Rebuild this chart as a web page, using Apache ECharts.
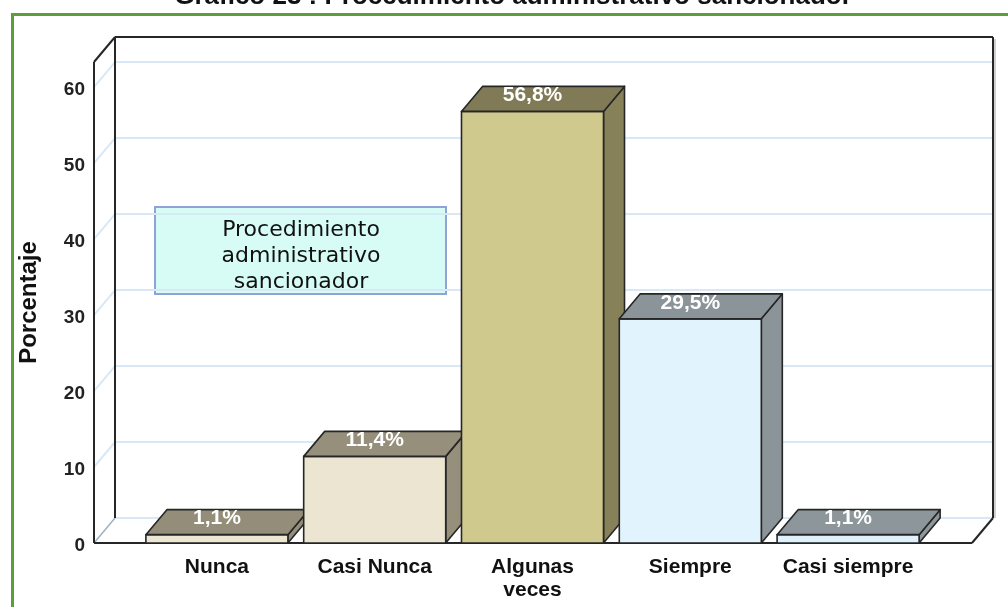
<!DOCTYPE html>
<html>
<head>
<meta charset="utf-8">
<script src="https://cdn.jsdelivr.net/npm/echarts@6/dist/echarts.min.js"></script>
<style>
html,body{margin:0;padding:0;background:#fff;}
#chart{width:1008px;height:607px;}
</style>
</head>
<body>
<div id="chart"></div>
<script>
// ---- data ----
const titleText = 'Gráfico 23 : Procedimiento administrativo sancionador';
const categories = ['Nunca', 'Casi Nunca', 'Algunas\nveces', 'Siempre', 'Casi siempre'];
const percentages = [1.1, 11.4, 56.8, 29.5, 1.1];
const yTicks = [0, 10, 20, 30, 40, 50, 60];
const yAxisName = 'Porcentaje';
const annotationText = 'Procedimiento\nadministrativo\nsancionador';

// ---- styles ----
const FONT = '"Liberation Sans", Arial, sans-serif';
const WIDE_FONT = '"DejaVu Sans", Verdana, sans-serif';
const frontColors = ['#ece6d2', '#ebe5d1', '#d0c98e', '#e1f3fd', '#dff2fc'];
const topColors   = ['#938d79', '#958f7b', '#807b56', '#8a9499', '#8c969b'];
const sideColors  = ['#938d7a', '#958f7c', '#868159', '#8a9499', '#8c969b'];
const EDGE = '#262626';
const GRID_LINE = '#d8e8f7';
const DX = 21, DY = -25;          // 3D depth offset (px)
const PAD_L = 44, PAD_R = 45;     // box extends beyond category band
const BAR_RATIO = 0.9;

const chart = echarts.init(document.getElementById('chart'));

function fmt(v) { return v.toFixed(1).replace('.', ',') + '%'; }

function renderGrid(params, api) {
  const cs = params.coordSys;
  const v = api.value(0);
  const p = api.coord([0, v]);
  const fx = cs.x - PAD_L, bx = fx + DX;
  const bxr = cs.x + cs.width + PAD_R + DX;
  const fy = p[1], by = p[1] + DY;
  return {
    type: 'group',
    children: [
      { type: 'line', shape: { x1: bx, y1: by, x2: bxr, y2: by }, style: { stroke: GRID_LINE, lineWidth: 2 } },
      { type: 'line', shape: { x1: fx, y1: fy, x2: bx, y2: by }, style: { stroke: v === 0 ? '#9fb0c2' : GRID_LINE, lineWidth: v === 0 ? 1.5 : 2 } },
      { type: 'text', style: { x: fx - 9, y: fy + 3, text: String(v), fill: '#222', font: 'bold 19px ' + FONT, textAlign: 'right', textVerticalAlign: 'middle' } }
    ]
  };
}

function renderFrame(params, api) {
  const cs = params.coordSys;
  const y0 = api.coord([0, 0])[1];
  const yTop = cs.y;
  const fl = cs.x - PAD_L, fr = cs.x + cs.width + PAD_R;
  const bl = fl + DX, br = fr + DX;
  const st = { stroke: EDGE, lineWidth: 2 };
  const L = (a, b, c, d, s) => ({ type: 'line', shape: { x1: a, y1: b, x2: c, y2: d }, style: s || st });
  return {
    type: 'group',
    children: [
      L(br + 2, yTop + DY + 2, br + 2, y0 + DY, { stroke: '#d0d0d0', lineWidth: 2 }),
      L(fl, yTop, fl, y0),
      L(bl, yTop + DY, bl, y0 + DY),
      L(fl, yTop, bl, yTop + DY),
      L(bl, yTop + DY, br, yTop + DY),
      L(br, yTop + DY, br, y0 + DY),
      L(fl, y0, fr, y0),
      L(fr, y0, br, y0 + DY)
    ]
  };
}

function renderBar(params, api) {
  const i = api.value(0), v = api.value(1);
  const top = api.coord([i, v]);
  const base = api.coord([i, 0]);
  const bw = api.size([1, 0])[0] * BAR_RATIO;
  const x0 = top[0] - bw / 2, x1 = top[0] + bw / 2;
  const yt = top[1], yb = base[1];
  const st = (fill) => ({ fill: fill, stroke: EDGE, lineWidth: 1.6, lineJoin: 'round' });
  return {
    type: 'group',
    children: [
      { type: 'polygon', shape: { points: [[x1, yt], [x1 + DX, yt + DY], [x1 + DX, yb + DY], [x1, yb]] }, style: st(sideColors[i]) },
      { type: 'rect', shape: { x: x0, y: yt, width: bw, height: yb - yt }, style: st(frontColors[i]) },
      { type: 'polygon', shape: { points: [[x0, yt], [x0 + DX, yt + DY], [x1 + DX, yt + DY], [x1, yt]] }, style: st(topColors[i]) },
      { type: 'text', style: { x: top[0], y: yt + DY + 9, text: fmt(v), fill: '#ffffff', font: 'bold 21px ' + FONT, textAlign: 'center', textVerticalAlign: 'middle' } }
    ]
  };
}

const option = {
  animation: false,
  grid: { left: 138, right: 81, top: 62, bottom: 64 },
  xAxis: {
    type: 'category',
    data: categories,
    boundaryGap: true,
    axisLine: { show: false },
    axisTick: { show: false },
    axisLabel: { color: '#111', fontWeight: 'bold', fontSize: 21, fontFamily: FONT, margin: 13, lineHeight: 23, interval: 0 }
  },
  yAxis: {
    type: 'value',
    min: 0,
    max: 63.3,
    interval: 10,
    offset: 44,
    name: yAxisName,
    nameLocation: 'middle',
    nameGap: 53,
    nameTextStyle: { color: '#111', fontWeight: 'bold', fontSize: 24, fontFamily: FONT },
    axisLine: { show: false },
    axisTick: { show: false },
    splitLine: { show: false },
    axisLabel: { show: false }
  },
  graphic: [
    { type: 'rect', left: 10, top: 12, shape: { width: 1010, height: 620 }, style: { fill: 'none', stroke: '#5c9e3c', lineWidth: 3 }, z: 100 },
    { type: 'text', x: 513, y: -3, style: { text: titleText, fill: '#111', font: 'bold 26px ' + FONT, textAlign: 'center', textVerticalAlign: 'middle' }, z: 100 },
    { type: 'group', left: 154, top: 206, z: 50, children: [
      { type: 'rect', shape: { x: 0, y: 0, width: 291, height: 87 }, style: { fill: '#d6fcf5', stroke: '#8ea3d6', lineWidth: 2 } },
      { type: 'text', style: { x: 146, y: 49, text: annotationText, fill: '#111', font: '22px ' + WIDE_FONT, lineHeight: 26, textAlign: 'center', textVerticalAlign: 'middle' } }
    ] }
  ],
  series: [
    { type: 'custom', name: 'grid', data: yTicks.map(v => [v]), renderItem: renderGrid, z: 1, silent: true },
    { type: 'custom', name: 'frame', data: [[0]], renderItem: renderFrame, z: 2, silent: true },
    { type: 'custom', name: 'Porcentaje', data: percentages.map((v, i) => [i, v]), renderItem: renderBar, encode: { x: 0, y: 1 }, z: 3 }
  ]
};
chart.setOption(option);
</script>
</body>
</html>
